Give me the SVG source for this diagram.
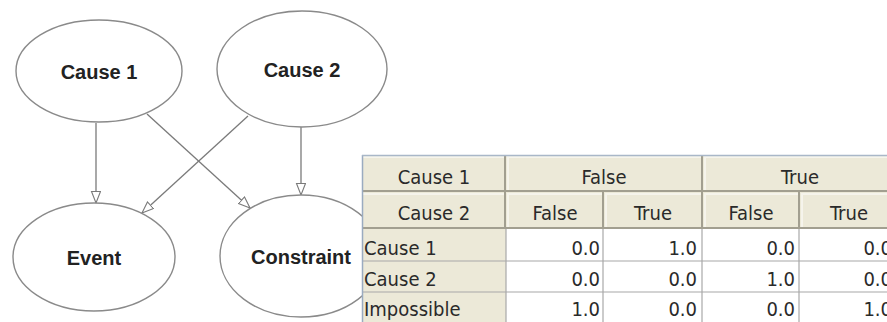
<svg xmlns="http://www.w3.org/2000/svg" width="887" height="322" viewBox="0 0 887 322">
<style>
.node ellipse{fill:#fff;stroke:#8a8a8a;stroke-width:1.4}
.node text{font-family:"Liberation Sans",Arial,sans-serif;font-weight:bold;font-size:20px;fill:#222;text-anchor:middle}
.edge{stroke:#7a7a7a;stroke-width:1.3;fill:none;marker-end:url(#arr)}
.hd{fill:#ECE9D8}
.hl{stroke:#ffffff;stroke-width:1}
.sh{stroke:#a29f90;stroke-width:2}
.grid{stroke:#a8a8a8;stroke-width:1.2}
.t{font-family:"DejaVu Sans Condensed","DejaVu Sans",sans-serif;font-stretch:condensed;font-size:20px;fill:#2a2a2a}
.c{text-anchor:middle}
.r{text-anchor:end}
</style>
<defs>
<marker id="arr" markerUnits="userSpaceOnUse" markerWidth="14" markerHeight="12" refX="12" refY="5" orient="auto">
<path d="M0.5,0.5 L12,5 L0.5,9.5 Z" fill="#fff" stroke="#7a7a7a" stroke-width="1.1"/>
</marker>
</defs>
<rect width="887" height="322" fill="#fff"/>
<g id="connectors">
<line class="edge" x1="96" y1="123" x2="96" y2="203"/>
<line class="edge" x1="147" y1="114" x2="250" y2="208"/>
<line class="edge" x1="248" y1="116" x2="142" y2="213"/>
<line class="edge" x1="301" y1="127" x2="301" y2="195"/>
</g>
<g id="cause1" class="node"><ellipse cx="99" cy="71" rx="83" ry="51"/><text x="99" y="79">Cause 1</text></g>
<g id="cause2" class="node"><ellipse cx="302" cy="69" rx="85" ry="58"/><text x="302" y="77">Cause 2</text></g>
<g id="event" class="node"><ellipse cx="94" cy="257" rx="81" ry="54"/><text x="94" y="265">Event</text></g>
<g id="constraint" class="node"><ellipse cx="301" cy="256" rx="81" ry="61"/><text x="301" y="264">Constraint</text></g>
<g id="table">
<rect x="362" y="155" width="530" height="170" fill="#fff"/>
<!-- header cells -->
<g>
<rect class="hd" x="362" y="155" width="144" height="37"/>
<rect class="hd" x="506" y="155" width="197" height="37"/>
<rect class="hd" x="703" y="155" width="195" height="37"/>
<rect class="hd" x="362" y="192" width="144" height="37"/>
<rect class="hd" x="506" y="192" width="98" height="37"/>
<rect class="hd" x="604" y="192" width="99" height="37"/>
<rect class="hd" x="703" y="192" width="97" height="37"/>
<rect class="hd" x="800" y="192" width="98" height="37"/>
<rect class="hd" x="362" y="229" width="144" height="94"/>
</g>
<g class="hl">
<line x1="363" y1="157" x2="504" y2="157"/><line x1="509" y1="157" x2="701" y2="157"/><line x1="706" y1="157" x2="887" y2="157"/>
<line x1="363" y1="194" x2="504" y2="194"/><line x1="509" y1="194" x2="602" y2="194"/><line x1="607" y1="194" x2="701" y2="194"/><line x1="706" y1="194" x2="798" y2="194"/><line x1="803" y1="194" x2="887" y2="194"/>
<line x1="508" y1="156" x2="508" y2="190"/><line x1="705" y1="156" x2="705" y2="190"/>
<line x1="508" y1="193" x2="508" y2="227"/><line x1="606" y1="193" x2="606" y2="227"/><line x1="705" y1="193" x2="705" y2="227"/><line x1="802" y1="193" x2="802" y2="227"/>
</g>
<g class="sh">
<line x1="362" y1="191" x2="887" y2="191"/>
<line x1="362" y1="228" x2="887" y2="228"/>
<line x1="505" y1="155" x2="505" y2="229"/>
<line x1="702" y1="155" x2="702" y2="229"/>
<line x1="603" y1="192" x2="603" y2="229"/>
<line x1="799" y1="192" x2="799" y2="229"/>
</g>
<g class="grid">
<line x1="362" y1="261" x2="887" y2="261"/>
<line x1="362" y1="292" x2="887" y2="292"/>
<line x1="506" y1="229" x2="506" y2="322"/>
<line x1="603" y1="229" x2="603" y2="322"/>
<line x1="702" y1="229" x2="702" y2="322"/>
<line x1="799" y1="229" x2="799" y2="322"/>
</g>
<line x1="362.5" y1="155" x2="362.5" y2="322" stroke="#9aabc0" stroke-width="1.5"/>
<line x1="362" y1="155.5" x2="887" y2="155.5" stroke="#a9b7c8" stroke-width="1.5"/>
<g class="t">
<text class="c" x="434" y="184">Cause 1</text>
<text class="c" x="604" y="184">False</text>
<text class="c" x="800" y="184">True</text>
<text class="c" x="434" y="220">Cause 2</text>
<text class="c" x="555" y="220">False</text>
<text class="c" x="653" y="220">True</text>
<text class="c" x="751" y="220">False</text>
<text class="c" x="849" y="220">True</text>
<text x="364" y="255">Cause 1</text>
<text x="364" y="286">Cause 2</text>
<text x="364" y="316">Impossible</text>
<text class="r" x="600" y="255">0.0</text>
<text class="r" x="697" y="255">1.0</text>
<text class="r" x="795" y="255">0.0</text>
<text class="r" x="892" y="255">0.0</text>
<text class="r" x="600" y="286">0.0</text>
<text class="r" x="697" y="286">0.0</text>
<text class="r" x="795" y="286">1.0</text>
<text class="r" x="892" y="286">0.0</text>
<text class="r" x="600" y="316">1.0</text>
<text class="r" x="697" y="316">0.0</text>
<text class="r" x="795" y="316">0.0</text>
<text class="r" x="892" y="316">1.0</text>
</g>
</g>
</svg>
